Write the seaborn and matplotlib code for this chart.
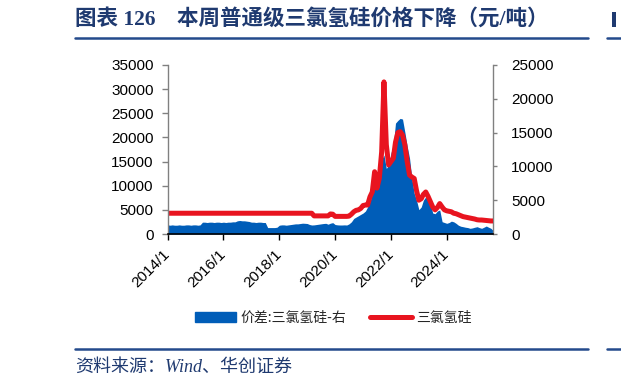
import matplotlib
matplotlib.use('Agg')
import matplotlib.pyplot as plt
import seaborn as sns
import pandas as pd
from matplotlib.patches import Patch, Rectangle
from matplotlib.lines import Line2D

# ---------------- data (monthly, 2014/1 - 2025/9) ----------------
months = pd.date_range('2014-01-01', '2025-09-01', freq='MS')

# 三氯氢硅 price (left axis, 元/吨)
tcs_price = (
    [4300] * 12 +                      # 2014
    [4300] * 12 +                      # 2015
    [4300] * 12 +                      # 2016
    [4300] * 12 +                      # 2017
    [4300] * 12 +                      # 2018
    [4300, 4300, 4300, 3750, 3750, 3750, 3750, 3750, 3750, 3750, 4150, 4100] +   # 2019
    [3650, 3650, 3650, 3650, 3650, 3650, 3700, 4100, 4600, 4900, 5000, 5300] +   # 2020
    [5900, 6000, 6000, 7700, 8700, 12900, 9500, 11500, 17000, 31500, 18500, 14300] +  # 2021
    [15000, 15700, 19000, 21000, 21200, 20500, 18500, 15000, 12200, 11800, 11500, 9000] +  # 2022
    [7000, 7300, 8200, 8700, 7800, 6700, 5600, 5000, 5500, 6300, 5600, 5000] +   # 2023
    [4800, 4700, 4600, 4300, 4200, 4000, 3800, 3600, 3500, 3400, 3300, 3200] +   # 2024
    [3100, 2950, 2900, 2900, 2850, 2800, 2750, 2700, 2700]                      # 2025
)

# 价差:三氯氢硅 (right axis)
spread = (
    [1350, 1300, 1350, 1300, 1300, 1350, 1300, 1300, 1350, 1350, 1300, 1350] +   # 2014
    [1350, 1300, 1350, 1750, 1750, 1700, 1750, 1750, 1700, 1750, 1750, 1700] +   # 2015
    [1750, 1700, 1750, 1750, 1800, 1800, 1950, 2000, 1950, 1950, 1900, 1850] +   # 2016
    [1750, 1750, 1700, 1750, 1750, 1700, 1700, 950, 950, 950, 950, 1000] +       # 2017
    [1300, 1350, 1350, 1300, 1350, 1400, 1450, 1500, 1500, 1550, 1600, 1580] +   # 2018
    [1550, 1400, 1330, 1350, 1400, 1450, 1500, 1550, 1580, 1450, 1600, 1680] +   # 2019
    [1400, 1350, 1330, 1330, 1350, 1330, 1500, 1800, 2300, 2500, 2700, 2900] +   # 2020
    [3100, 3400, 4000, 4800, 6000, 9200, 7300, 10700, 11000, 11700, 9700, 10200] +  # 2021
    [12000, 13200, 16400, 16800, 17100, 17000, 15100, 13000, 11200, 8200, 6000, 5000] +  # 2022
    [3600, 4000, 5000, 5500, 5000, 4500, 3100, 3000, 3400, 3550, 1820, 1700] +   # 2023
    [1580, 1700, 1900, 1800, 1580, 1300, 1150, 1080, 1000, 950, 840, 900] +      # 2024
    [1000, 1080, 950, 840, 1000, 1180, 1000, 840, 500]                          # 2025
)

tick_labels = ['2014/1', '2016/1', '2018/1', '2020/1', '2022/1', '2024/1']
left_ticks = [0, 5000, 10000, 15000, 20000, 25000, 30000, 35000]
right_ticks = [0, 5000, 10000, 15000, 20000, 25000]
series_names = ['价差:三氯氢硅-右', '三氯氢硅']

title_text = '图表 126    本周普通级三氯氢硅价格下降（元/吨）'
source_text = '资料来源：Wind、华创证券'

# ---------------- style ----------------
sns.set_theme(style='white')
plt.rcParams['font.family'] = ['Liberation Sans', 'Noto Sans CJK SC', 'DejaVu Sans']

BLUE = '#005DB8'
RED = '#E8141F'
NAVY = '#1F3A70'

W, H = 621, 388
fig = plt.figure(figsize=(W / 100, H / 100), dpi=100)

ax = fig.add_axes([167.7 / W, (H - 234) / H, (493.3 - 167.7) / W, (234 - 65) / H])
ax2 = ax.twinx()

df = pd.DataFrame({'date': months, 'price': tcs_price, 'spread': spread})

ax2.fill_between(df['date'], df['spread'], 0, color=BLUE, lw=0)
sns.lineplot(data=df, x='date', y='price', ax=ax, color=RED, lw=3.6, legend=False)

ax.set_zorder(ax2.get_zorder() + 1)
ax.patch.set_visible(False)

ax.set_xlim(months[0], months[-1])
ax.set_ylim(0, 35000)
ax2.set_ylim(0, 25000)
ax.set_yticks(left_ticks)
ax.set_yticklabels([str(v) for v in left_ticks])
ax2.set_yticks(right_ticks)
ax2.set_yticklabels([str(v) for v in right_ticks])

tick_dates = [pd.Timestamp(int(s.split('/')[0]), int(s.split('/')[1]), 1) for s in tick_labels]
ax.set_xticks(tick_dates)
ax.set_xticklabels(tick_labels, rotation=45, ha='right', va='center', rotation_mode='anchor')
ax.set_xlabel('')
ax.set_ylabel('')
ax2.set_ylabel('')

for a in (ax, ax2):
    a.grid(False)
    a.spines['top'].set_visible(False)
ax.spines['right'].set_visible(False)
ax2.spines['left'].set_visible(False)
ax2.spines['bottom'].set_visible(False)
ax.spines['left'].set_color('#808080')
ax.spines['left'].set_linewidth(1.0)
ax2.spines['right'].set_color('#808080')
ax2.spines['right'].set_linewidth(1.0)
ax.spines['bottom'].set_color('#000000')
ax.spines['bottom'].set_linewidth(1.2)

ax.tick_params(axis='y', direction='out', length=4, width=1, color='#808080',
               labelsize=11, labelcolor='#000000', pad=6, left=True)
ax2.tick_params(axis='y', direction='out', length=3, width=1, color='#808080',
                labelsize=11, labelcolor='#000000', pad=10, right=True)
ax.tick_params(axis='x', direction='out', length=4, width=1, color='#000000',
               labelsize=11, labelcolor='#000000', pad=9, bottom=True)

# legend
handles = [Patch(facecolor=BLUE, edgecolor=BLUE),
           Line2D([], [], color=RED, lw=3.6)]
fig.legend(handles=handles, labels=series_names, loc='center',
           bbox_to_anchor=(333 / W, 1 - 318 / H), ncol=2, frameon=False,
           prop={'family': ['Noto Sans CJK SC'], 'size': 10},
           handlelength=3.0, handleheight=0.75, handletextpad=0.3, columnspacing=1.7)

# title, rules, source
fig.text(75 / W, 1 - 19 / H, title_text, fontsize=15.5, fontweight='bold', color=NAVY,
         family=['Liberation Serif', 'Noto Sans CJK SC'], ha='left', va='center')
fig.add_artist(Line2D([75 / W, 588 / W], [1 - 38 / H] * 2, color='#244A8C', lw=1.8))
fig.add_artist(Line2D([75 / W, 588 / W], [1 - 349 / H] * 2, color='#244A8C', lw=1.8))
fig.add_artist(Line2D([607 / W, 1.0], [1 - 38 / H] * 2, color='#244A8C', lw=1.8))
fig.add_artist(Line2D([607 / W, 1.0], [1 - 349 / H] * 2, color='#244A8C', lw=1.8))
fig.add_artist(Rectangle((612 / W, 1 - 27 / H), 4 / W, 15 / H, color=NAVY, lw=0))
fig.text(75 / W, 1 - 367 / H, source_text, fontsize=13, style='italic', color=NAVY,
         family=['Liberation Serif', 'Noto Sans CJK SC'], ha='left', va='center')

fig.savefig('out.png', dpi=100)
